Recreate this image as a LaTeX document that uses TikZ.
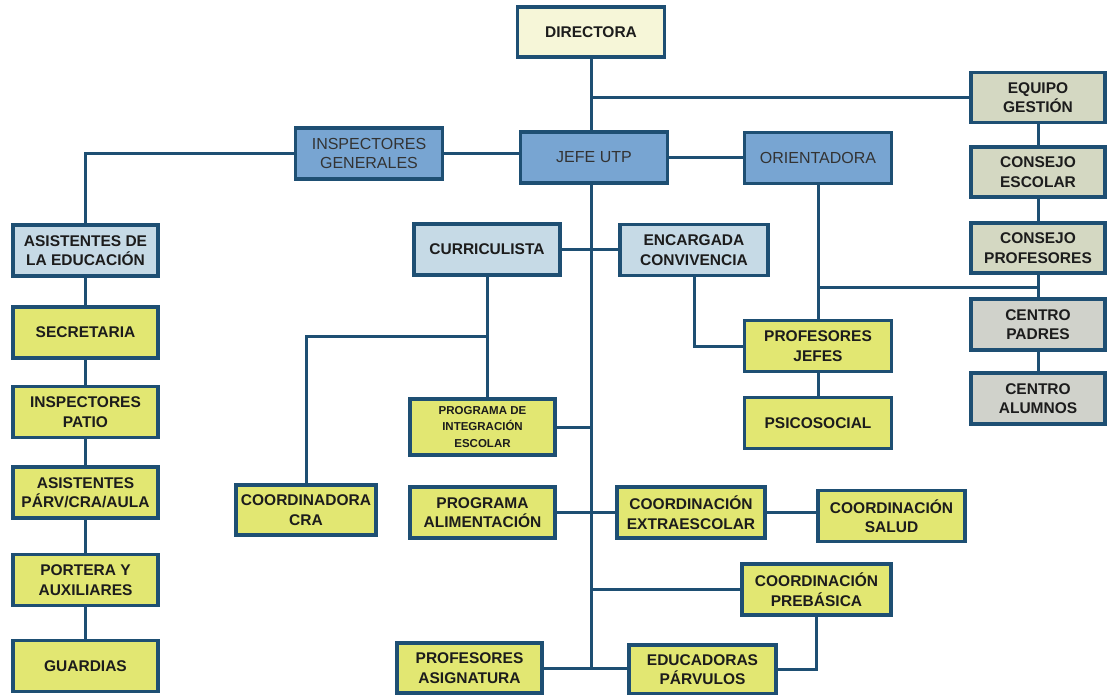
\documentclass[tikz,border=0pt]{standalone}
\usepackage{fontspec}
\setmainfont{Liberation Sans}
\definecolor{lineC}{HTML}{1E4F73}
\definecolor{fYel}{HTML}{E2E772}
\definecolor{fLBlue}{HTML}{C6DAE6}
\definecolor{fMBlue}{HTML}{78A5D2}
\definecolor{fGrn}{HTML}{D4D8C2}
\definecolor{fGry}{HTML}{D0D2CB}
\definecolor{fCrm}{HTML}{F6F6D8}
\definecolor{txtC}{HTML}{1C1C1C}
\tikzset{
  box/.style={draw=lineC, line width=3.2pt, minimum width=147pt, minimum height=51pt,
    inner sep=0pt, align=center, text=txtC,
    font=\bfseries\fontsize{15.5}{19.5}\selectfont},
  yel/.style={box, fill=fYel},
  lblue/.style={box, fill=fLBlue},
  mblue/.style={box, fill=fMBlue, text=black!80, font=\fontsize{16}{19.5}\selectfont},
  grn/.style={box, fill=fGrn, minimum width=134pt, minimum height=50pt},
  gry/.style={box, fill=fGry, minimum width=134pt, minimum height=51pt},
  crm/.style={box, fill=fCrm, minimum height=50pt},
  conn/.style={draw=lineC, line width=3pt},
}
\begin{document}
\begin{tikzpicture}[x=1pt, y=-1pt]
\useasboundingbox (0,0) rectangle (1107,695);
% top
\node[crm]   (dir)   at (591,32)    {DIRECTORA};
\node[mblue] (ig)    at (369,153.5) {INSPECTORES\\GENERALES};
\node[mblue] (jefe)  at (594,157.5) {JEFE UTP};
\node[mblue] (ori)   at (818,158)   {ORIENTADORA};
% right column
\node[grn] (equipo) at (1038,97.5)  {EQUIPO\\GESTIÓN};
\node[grn] (cesc)   at (1038,172)   {CONSEJO\\ESCOLAR};
\node[grn] (cprof)  at (1038,248)   {CONSEJO\\PROFESORES};
\node[gry] (cpad)   at (1038,324.5) {CENTRO\\PADRES};
\node[gry] (calum)  at (1038,398.5) {CENTRO\\ALUMNOS};
% left column
\node[lblue, minimum width=145pt] (asis)    at (85.5,250.5) {ASISTENTES DE\\LA EDUCACIÓN};
\node[yel, minimum width=145pt]   (secr)    at (85.5,332.5) {SECRETARIA};
\node[yel, minimum width=145pt]   (ipatio)  at (85.5,412)   {INSPECTORES\\PATIO};
\node[yel, minimum width=145pt]   (aparv)   at (85.5,492.5) {ASISTENTES\\PÁRV/CRA/AULA};
\node[yel, minimum width=145pt]   (portera) at (85.5,580)   {PORTERA Y\\AUXILIARES};
\node[yel, minimum width=145pt]   (guard)   at (85.5,666)   {GUARDIAS};
% middle
\node[lblue, minimum width=146pt] (curr) at (487,249.5) {CURRICULISTA};
\node[lblue, minimum width=148pt] (enc)  at (694,250)   {ENCARGADA\\CONVIVENCIA};
\node[yel] (pjefes) at (818,346) {PROFESORES\\JEFES};
\node[yel] (psico)  at (818,423) {PSICOSOCIAL};
\node[yel, minimum width=145pt, minimum height=56pt,
      font=\bfseries\fontsize{11.5}{16.5}\selectfont] (pie) at (482.5,427) {PROGRAMA DE\\INTEGRACIÓN\\ESCOLAR};
\node[yel, minimum width=140pt, minimum height=50pt] (cra) at (306,510) {COORDINADORA\\CRA};
\node[yel, minimum width=145pt] (palim)  at (482.5,512.5) {PROGRAMA\\ALIMENTACIÓN};
\node[yel, minimum width=148pt] (cextra) at (691,512.5)   {COORDINACIÓN\\EXTRAESCOLAR};
\node[yel] (csalud) at (891.5,516)  {COORDINACIÓN\\SALUD};
\node[yel, minimum width=149pt] (cpreb)  at (816.5,589.5) {COORDINACIÓN\\PREBÁSICA};
\node[yel, minimum width=145pt, minimum height=50pt] (pasig) at (469.5,668) {PROFESORES\\ASIGNATURA};
\node[yel, minimum height=49pt] (educ) at (702.5,669.5) {EDUCADORAS\\PÁRVULOS};
% helper coordinates
\coordinate (spx) at (591,0);
\coordinate (oj)  at (818,287);
\coordinate (cb)  at (487,336);
% spine
\path[conn] (dir.south) -- (dir.south |- jefe.north);
\path[conn] (jefe.south -| spx) -- (spx |- pasig.east);
\path[conn] (equipo.west -| spx) -- (equipo.west);
% top row
\path[conn] (ig.east) -- (ig.east -| jefe.west);
\path[conn] (jefe.east) -- (jefe.east -| ori.west);
\path[conn] (ig.west) -- (ig.west -| asis.north) -- (asis.north);
% left column
\path[conn] (asis.south) -- (secr.north);
\path[conn] (secr.south) -- (ipatio.north);
\path[conn] (ipatio.south) -- (aparv.north);
\path[conn] (aparv.south) -- (portera.north);
\path[conn] (portera.south) -- (guard.north);
% right column
\path[conn] (equipo.south) -- (cesc.north);
\path[conn] (cesc.south) -- (cprof.north);
\path[conn] (cprof.south) -- (cpad.north);
\path[conn] (cpad.south) -- (calum.north);
\path[conn] (ori.south) -- (pjefes.north);
\path[conn] (oj) -- (oj -| cprof.south);
\path[conn] (pjefes.south) -- (psico.north);
% middle
\path[conn] (curr.east) -- (curr.east -| enc.west);
\path[conn] (enc.south) -- (enc.south |- pjefes.west) -- (pjefes.west);
\path[conn] (curr.south) -- (curr.south |- pie.north);
\path[conn] (cb) -- (cb -| cra.north) -- (cra.north);
\path[conn] (pie.east) -- (pie.east -| spx);
\path[conn] (palim.east) -- (palim.east -| cextra.west);
\path[conn] (cextra.east) -- (cextra.east -| csalud.west);
\path[conn] (cpreb.west -| spx) -- (cpreb.west);
\path[conn] (pasig.east) -- (pasig.east -| educ.west);
\path[conn] (cpreb.south) -- (cpreb.south |- educ.east) -- (educ.east);
\end{tikzpicture}
\end{document}
